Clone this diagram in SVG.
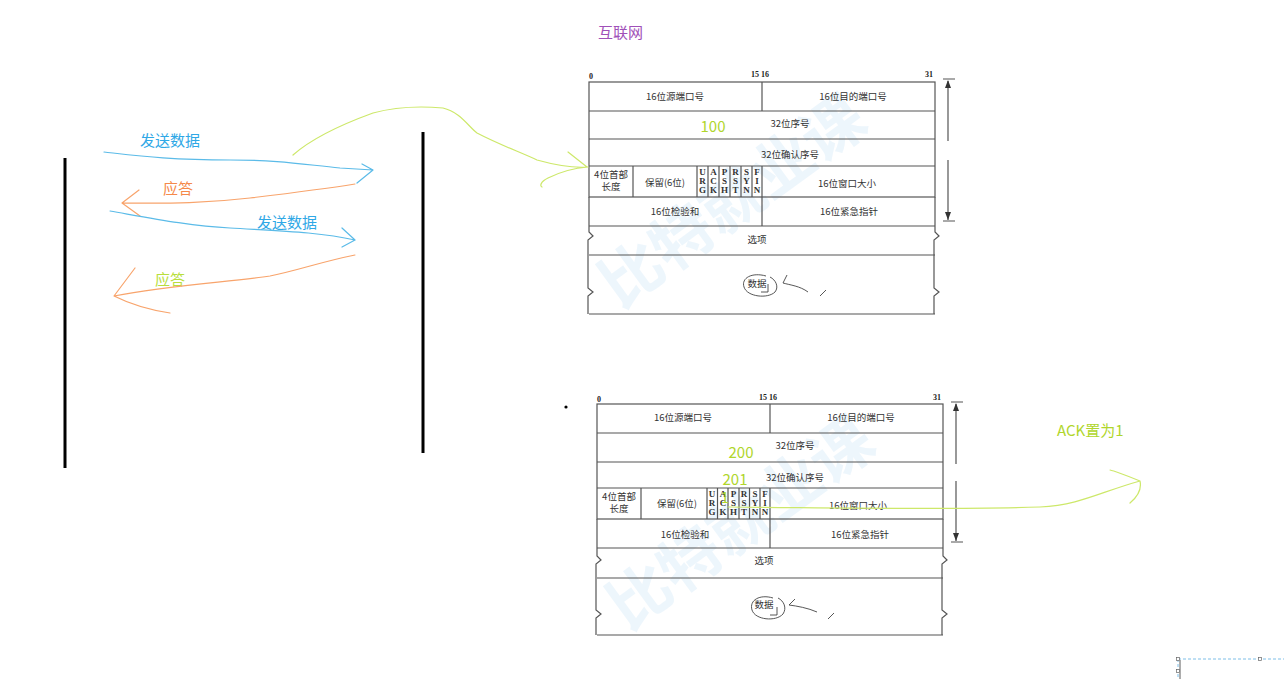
<svg xmlns="http://www.w3.org/2000/svg" width="1284" height="679" viewBox="0 0 1284 679">
<style>
.t{font-family:"Noto Sans CJK SC","Liberation Serif",serif;font-size:9.5px;fill:#333;text-anchor:middle}
.f{font-family:"Liberation Serif",serif;font-size:9px;font-weight:bold;fill:#333;text-anchor:middle}
.b{font-family:"Liberation Serif",serif;font-size:8px;font-weight:bold;fill:#222}
.tb{fill:none;stroke:#555;stroke-width:1.2}
.hand{fill:none;stroke-linecap:round;stroke-linejoin:round;stroke-width:1.2}
.blue{stroke:#5bbbe8}
.orange{stroke:#f8a46c}
.green{stroke:#cde86a}
.lbl{font-family:"Noto Sans CJK SC","Microsoft YaHei",sans-serif;font-size:15px}
.wm{font-family:"Noto Sans CJK SC",sans-serif;font-size:62px;font-weight:bold;fill:#e2f1fb;opacity:0.6}
.pen{fill:none;stroke:#444;stroke-width:0.9}
</style>

<!-- watermarks -->
<g id="watermark">
  <text class="wm" transform="translate(620,310) rotate(-36)">比特就业课</text>
  <text class="wm" transform="translate(628,632) rotate(-36)">比特就业课</text>
</g>

<!-- title -->
<g id="title"><text class="lbl" x="598" y="38" fill="#a050b8">互联网</text></g>

<!-- left vertical bars -->
<g id="hosts">
  <line x1="65" y1="158" x2="65" y2="468" stroke="#000" stroke-width="3"/>
  <line x1="423" y1="132" x2="423" y2="453" stroke="#000" stroke-width="3"/>
</g>

<!-- top TCP header -->
<g id="header-top">
  <text class="b" x="589" y="79">0</text>
  <text class="b" x="751" y="77">15 16</text>
  <text class="b" x="925" y="77">31</text>
  <rect class="tb" x="589" y="82" width="346" height="115"/>
  <line class="tb" x1="589" y1="111" x2="935" y2="111"/>
  <line class="tb" x1="589" y1="139" x2="935" y2="139"/>
  <line class="tb" x1="589" y1="166" x2="935" y2="166"/>
  <line class="tb" x1="762" y1="82" x2="762" y2="111"/>
  <line class="tb" x1="633" y1="166" x2="633" y2="197"/>
  <line class="tb" x1="697" y1="166" x2="697" y2="197"/>
  <line class="tb" x1="708" y1="166" x2="708" y2="197"/>
  <line class="tb" x1="719" y1="166" x2="719" y2="197"/>
  <line class="tb" x1="730" y1="166" x2="730" y2="197"/>
  <line class="tb" x1="741" y1="166" x2="741" y2="197"/>
  <line class="tb" x1="752" y1="166" x2="752" y2="197"/>
  <line class="tb" x1="762" y1="166" x2="762" y2="226"/>
  <path class="tb" d="M589 197 V226 M935 197 V226 M589 226 H935 M589 255 H935 M589 314 H935"/>
  <path class="tb" d="M589 226 V232 L593 236 L588 240 V288 L593 292 L588 296 V314"/>
  <path class="tb" d="M935 226 V232 L939 236 L934 240 V288 L939 292 L934 296 V314"/>
  <text class="t" x="675" y="100">16位源端口号</text>
  <text class="t" x="853" y="100">16位目的端口号</text>
  <text class="t" x="790" y="127">32位序号</text>
  <text class="t" x="790" y="158">32位确认序号</text>
  <text class="t" x="611" y="178">4位首部</text>
  <text class="t" x="611" y="190">长度</text>
  <text class="t" x="665" y="186">保留(6位)</text>
  <g class="f">
    <text x="702.5" y="175">U</text><text x="702.5" y="184">R</text><text x="702.5" y="193">G</text>
    <text x="713.5" y="175">A</text><text x="713.5" y="184">C</text><text x="713.5" y="193">K</text>
    <text x="724.5" y="175">P</text><text x="724.5" y="184">S</text><text x="724.5" y="193">H</text>
    <text x="735.5" y="175">R</text><text x="735.5" y="184">S</text><text x="735.5" y="193">T</text>
    <text x="746.5" y="175">S</text><text x="746.5" y="184">Y</text><text x="746.5" y="193">N</text>
    <text x="757" y="175">F</text><text x="757" y="184">I</text><text x="757" y="193">N</text>
  </g>
  <text class="t" x="847" y="187">16位窗口大小</text>
  <text class="t" x="675" y="215">16位检验和</text>
  <text class="t" x="849" y="215">16位紧急指针</text>
  <text class="t" x="757" y="243">选项</text>
  <text class="t" x="757" y="287">数据</text>
  <path class="pen" d="M766 276 C752 272 741 278 744 287 C747 297 768 299 775 292 C779 287 776 280 770 277 M768 284 V292 H761"/>
  <path class="pen" d="M787 275 L783 283 C790 285 800 286 808 292"/>
  <path class="pen" d="M820 296 L826 290"/>
  <path class="tb" d="M943 79 H955 M948 81 V141 M948 160 V220 M943 221 H955"/>
  <path d="M948 80 L945 88 L951 88 Z M948 220 L945 212 L951 212 Z" fill="#333"/>
  <text class="lbl" x="713" y="132" fill="#b0d62c" text-anchor="middle">100</text>
</g>

<!-- bottom TCP header -->
<g id="header-bottom">
  <text class="b" x="597" y="402">0</text>
  <text class="b" x="759" y="400">15 16</text>
  <text class="b" x="933" y="400">31</text>
  <rect class="tb" x="597" y="404" width="346" height="115"/>
  <line class="tb" x1="597" y1="433" x2="943" y2="433"/>
  <line class="tb" x1="597" y1="462" x2="943" y2="462"/>
  <line class="tb" x1="597" y1="488" x2="943" y2="488"/>
  <line class="tb" x1="770" y1="404" x2="770" y2="433"/>
  <line class="tb" x1="641" y1="488" x2="641" y2="519"/>
  <line class="tb" x1="707" y1="488" x2="707" y2="519"/>
  <line class="tb" x1="717.5" y1="488" x2="717.5" y2="519"/>
  <line class="tb" x1="728" y1="488" x2="728" y2="519"/>
  <line class="tb" x1="739" y1="488" x2="739" y2="519"/>
  <line class="tb" x1="749.5" y1="488" x2="749.5" y2="519"/>
  <line class="tb" x1="760" y1="488" x2="760" y2="519"/>
  <line class="tb" x1="770" y1="488" x2="770" y2="548"/>
  <path class="tb" d="M597 519 V548 M943 519 V548 M597 548 H943 M597 578 H943 M597 635 H943"/>
  <path class="tb" d="M597 548 V556 L601 560 L596 564 V610 L601 614 L596 618 V635"/>
  <path class="tb" d="M943 548 V556 L947 560 L942 564 V610 L947 614 L942 618 V635"/>
  <text class="t" x="683" y="421">16位源端口号</text>
  <text class="t" x="861" y="421">16位目的端口号</text>
  <text class="t" x="795" y="449">32位序号</text>
  <text class="t" x="795" y="481">32位确认序号</text>
  <text class="t" x="619" y="500">4位首部</text>
  <text class="t" x="619" y="512">长度</text>
  <text class="t" x="677" y="507">保留(6位)</text>
  <g class="f">
    <text x="712" y="497">U</text><text x="712" y="506">R</text><text x="712" y="515">G</text>
    <text x="723" y="497">A</text><text x="723" y="506">C</text><text x="723" y="515">K</text>
    <text x="733.5" y="497">P</text><text x="733.5" y="506">S</text><text x="733.5" y="515">H</text>
    <text x="744" y="497">R</text><text x="744" y="506">S</text><text x="744" y="515">T</text>
    <text x="755" y="497">S</text><text x="755" y="506">Y</text><text x="755" y="515">N</text>
    <text x="765" y="497">F</text><text x="765" y="506">I</text><text x="765" y="515">N</text>
  </g>
  <text class="t" x="858" y="509">16位窗口大小</text>
  <text class="t" x="685" y="538">16位检验和</text>
  <text class="t" x="860" y="538">16位紧急指针</text>
  <text class="t" x="764" y="564">选项</text>
  <text class="t" x="764" y="608">数据</text>
  <path class="pen" d="M773 598 C760 594 749 600 752 610 C755 620 776 622 783 614 C787 608 784 601 778 598 M777 607 V615 H770"/>
  <path class="pen" d="M795 599 L789 605 C797 606 808 608 817 612"/>
  <path class="pen" d="M828 619 L834 613"/>
  <path class="tb" d="M951 402 H963 M956 404 V464 M956 481 V541 M951 542 H963"/>
  <path d="M956 403 L953 411 L959 411 Z M956 541 L953 533 L959 533 Z" fill="#333"/>
  <text class="lbl" x="741" y="458" fill="#b0d62c" text-anchor="middle">200</text>
  <text class="lbl" x="735" y="485" fill="#b0d62c" text-anchor="middle">201</text>
  <text class="lbl" x="725" y="503" fill="#b0d62c" text-anchor="middle" font-size="13">1</text>
  <circle cx="566" cy="407" r="1.6" fill="#000"/>
</g>

<!-- labels -->
<g id="labels">
  <text class="lbl" x="140" y="146" fill="#2fa8e6">发送数据</text>
  <text class="lbl" x="163" y="194" fill="#f5894a">应答</text>
  <text class="lbl" x="257" y="228" fill="#2fa8e6">发送数据</text>
  <text class="lbl" x="155" y="285" fill="#b8de3c">应答</text>
  <text class="lbl" x="1057" y="436" fill="#b0d62c">ACK置为1</text>
</g>

<!-- connectors -->
<g id="connectors">
  <path class="hand blue" d="M104 152 C140 156 170 160 230 160 C280 160 300 164 340 168 L373 170 L357 183 M362 164 L373 170"/>
  <path class="hand orange" d="M355 184 C330 188 300 192 250 198 C200 204 160 203 122 203 L139 190 M122 203 L140 216"/>
  <path class="hand blue" d="M110 211 C150 218 190 226 230 228 C280 231 320 232 355 240 L342 247 M342 228 L355 240"/>
  <path class="hand orange" d="M355 255 C320 262 300 270 270 276 C230 282 170 285 114 296 L135 268 M114 296 C130 304 150 310 170 313"/>
  <path class="hand green" d="M293 155 C310 140 340 125 373 113 C395 107 420 106 443 108 C460 112 468 126 477 133 C500 145 520 152 537 160 C555 165 575 168 588 167 C575 168 560 172 548 178 C540 182 540 186 542 187 M568 152 L587 167"/>
  <path class="hand green" d="M728 507 C850 508 950 510 1040 507 C1080 505 1100 492 1140 481 C1125 475 1115 471 1110 470 M1140 481 C1142 490 1136 498 1130 503"/>
</g>

<!-- selection marker bottom right -->
<g id="selection">
  <line x1="1178" y1="659" x2="1284" y2="659" stroke="#7fbfe8" stroke-width="1" stroke-dasharray="3,2"/>
  <line x1="1178" y1="659" x2="1178" y2="679" stroke="#7fbfe8" stroke-width="1" stroke-dasharray="3,2"/>
  <line x1="1180" y1="660" x2="1180" y2="679" stroke="#333" stroke-width="0.8"/>
  <rect x="1176.5" y="657.5" width="3" height="3" fill="#fff" stroke="#666" stroke-width="0.7"/>
  <rect x="1258.5" y="657.5" width="3" height="3" fill="#fff" stroke="#666" stroke-width="0.7"/>
  <rect x="1176.5" y="669.5" width="3" height="3" fill="#fff" stroke="#666" stroke-width="0.7"/>
</g>
</svg>
